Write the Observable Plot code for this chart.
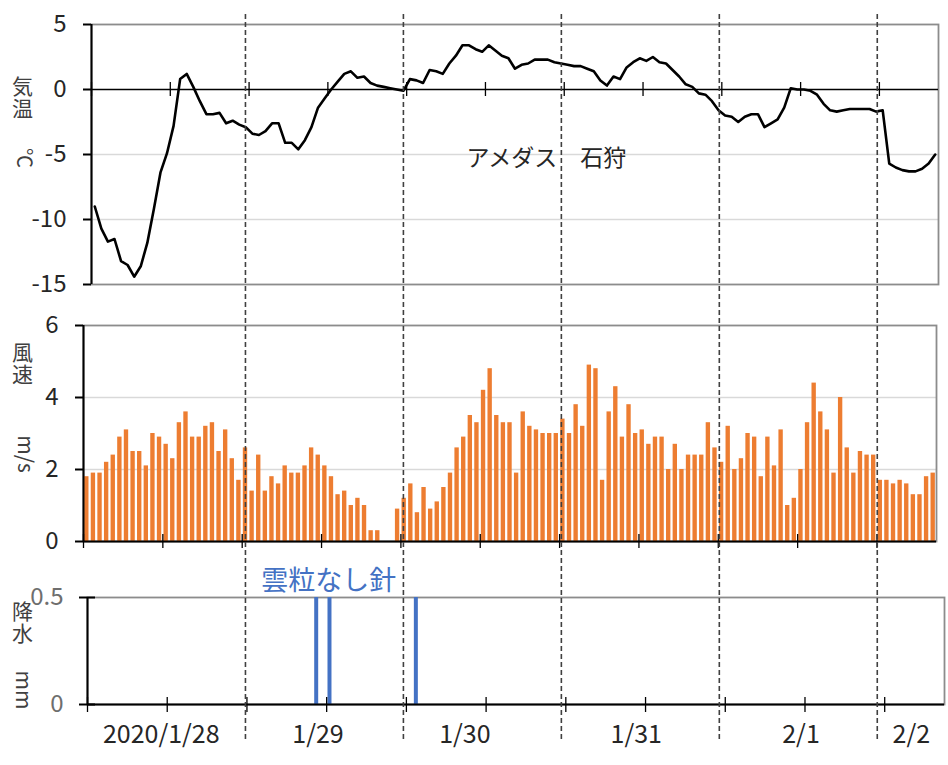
<!DOCTYPE html>
<html><head><meta charset="utf-8">
<script src="https://cdn.jsdelivr.net/npm/d3@7"></script>
<script src="https://cdn.jsdelivr.net/npm/@observablehq/plot@0.6"></script>
<style>
body{margin:0;background:#fff;}
#wrap{position:relative;width:948px;height:765px;overflow:hidden;font-family:"Noto Sans CJK JP","Noto Sans",sans-serif;background:#fff;}
#wrap svg{position:absolute;left:0;top:0;}
</style></head><body><div id="wrap"></div>
<script>
// ---- data ----
const dayLabels = ["2020/1/28", "1/29", "1/30", "1/31", "2/1", "2/2"];
const dayLabelHours = [11.1, 34.7, 56.8, 82.6, 107.4, 124.0];
const halfDayTicks = [0, 12, 24, 36, 48, 60, 72, 84, 96, 108, 120];
const dayBoundaries = [24, 48, 72, 96, 120];
const tempTicks = [5, 0, -5, -10, -15];
const tempGrid = [-5, -10];
const windTicks = [6, 4, 2, 0];
const windGrid = [4, 2];
const precipTicks = [0.5, 0];

// hourly temperature (°C), 2020/1/28 00h .. 2/2 08h
const temperature = [
  -9.0, -10.7, -11.7, -11.5, -13.2, -13.5, -14.4, -13.6, -11.8, -9.2, -6.4, -4.9,
  -2.8, 0.8, 1.2, 0.2, -0.9, -1.9, -1.9, -1.8, -2.6, -2.4, -2.7, -2.9,
  -3.4, -3.5, -3.2, -2.6, -2.6, -4.1, -4.1, -4.6, -3.9, -2.9, -1.4, -0.7,
  0.0, 0.6, 1.2, 1.4, 0.9, 1.0, 0.5, 0.3, 0.2, 0.1, 0.0, -0.1,
  0.8, 0.7, 0.5, 1.5, 1.4, 1.2, 2.0, 2.6, 3.4, 3.4, 3.1, 2.9,
  3.4, 3.0, 2.6, 2.4, 1.6, 1.9, 2.0, 2.3, 2.3, 2.3, 2.1, 2.0,
  1.9, 1.8, 1.8, 1.6, 1.4, 0.7, 0.3, 1.0, 0.8, 1.7, 2.1, 2.4,
  2.2, 2.5, 2.1, 2.0, 1.5, 1.0, 0.4, 0.2, -0.3, -0.4, -0.9, -1.6,
  -2.0, -2.1, -2.5, -2.1, -1.9, -1.9, -2.9, -2.6, -2.3, -1.4, 0.1, 0.0,
  0.0, -0.1, -0.4, -1.1, -1.6, -1.7, -1.6, -1.5, -1.5, -1.5, -1.5, -1.7,
  -1.6, -5.7, -6.0, -6.2, -6.3, -6.3, -6.1, -5.7, -5.0
];

// hourly wind speed (m/s)
const windSpeed = [
  1.8, 1.9, 1.9, 2.2, 2.4, 2.9, 3.1, 2.5, 2.5, 2.1, 3.0, 2.9, 2.7, 2.3, 3.3, 3.6, 2.9, 2.9, 3.2, 3.3, 2.5, 3.1, 2.3, 1.7,
  2.6, 1.4, 2.4, 1.4, 1.8, 1.6, 2.1, 1.9, 1.9, 2.1, 2.6, 2.4, 2.1, 1.8, 1.3, 1.4, 1.0, 1.2, 1.0, 0.3, 0.3, 0, 0, 0.9,
  1.2, 1.6, 0.8, 1.5, 0.9, 1.1, 1.5, 1.9, 2.6, 2.9, 3.5, 3.3, 4.2, 4.8, 3.5, 3.3, 3.3, 1.9, 3.6, 3.2, 3.1, 3.0, 3.0, 3.0,
  3.4, 3.0, 3.8, 3.2, 4.9, 4.8, 1.7, 3.6, 4.3, 2.9, 3.8, 3.0, 3.1, 2.7, 2.9, 2.9, 2.0, 2.7, 2.0, 2.4, 2.4, 2.4, 3.3, 2.6,
  2.2, 3.2, 2.0, 2.3, 3.0, 2.9, 1.8, 2.9, 2.1, 3.1, 1.0, 1.2, 2.0, 3.3, 4.4, 3.6, 3.1, 1.9, 4.0, 2.6, 1.9, 2.5, 2.4, 2.4,
  1.7, 1.7, 1.6, 1.7, 1.6, 1.3, 1.3, 1.8, 1.9
];

// precipitation (mm): hour index and amount
const precipHours = [34, 36, 49];
const precipValues = [0.5, 0.5, 0.5];

const stationLabel = "アメダス　石狩";
const snowLabel = "雲粒なし針";

// ---- layout ----
const W = 948, H = 765, N = temperature.length;
const wrap = document.getElementById("wrap");
const font = '"Noto Sans CJK JP", "Noto Sans", sans-serif';
const fmt = d => String(d);

function panel(o) {
  return Plot.plot({
    width: W, height: H,
    style: {fontFamily: font, background: "transparent", overflow: "visible"},
    ...o
  });
}

const tempPlot = panel({
  marginLeft: 91, marginRight: 10, marginTop: 24, marginBottom: H - 284,
  x: {domain: [0, N], axis: null},
  y: {domain: [-15, 5], axis: null},
  marks: [
    Plot.ruleY(tempGrid, {stroke: "#d9d9d9", strokeWidth: 1.6}),
    Plot.frame({stroke: "#8c8c8c", strokeWidth: 1.8}),
    Plot.ruleY([0], {stroke: "black", strokeWidth: 1.3}),
    Plot.ruleX(halfDayTicks, {y1: 0, y2: 0, insetTop: -7, insetBottom: -7, stroke: "black", strokeWidth: 1.3}),
    Plot.ruleX([0], {stroke: "black", strokeWidth: 2}),
    Plot.ruleY(tempTicks, {x1: 0, x2: 0, insetLeft: -8, stroke: "black", strokeWidth: 2}),
    Plot.text(tempTicks, {y: d => d, text: fmt, frameAnchor: "left", textAnchor: "end", dx: -25, fontSize: 24, fill: "#262626"}),
    Plot.line(temperature, {x: (d, i) => i + 0.5, y: d => d, stroke: "black", strokeWidth: 2.6, strokeLinejoin: "round"}),
    Plot.text([stationLabel], {x: 57.1, y: -5.35, text: d => d, textAnchor: "start", fontSize: 23, fill: "#262626"})
  ]
});

const windPlot = panel({
  marginLeft: 83, marginRight: W - 936, marginTop: 325, marginBottom: H - 541,
  x: {domain: [0, N], axis: null},
  y: {domain: [0, 6], axis: null},
  marks: [
    Plot.ruleY(windGrid, {stroke: "#d9d9d9", strokeWidth: 1.6}),
    Plot.frame({stroke: "#8c8c8c", strokeWidth: 1.8}),
    Plot.rect(windSpeed, {x1: (d, i) => i + 0.17, x2: (d, i) => i + 0.83, y1: 0, y2: d => d, fill: "#ED7D31"}),
    Plot.ruleY([0], {stroke: "black", strokeWidth: 2}),
    Plot.ruleX(halfDayTicks, {y1: 0, y2: 0, insetTop: -7, insetBottom: -7, stroke: "black", strokeWidth: 1.3}),
    Plot.ruleX([0], {stroke: "black", strokeWidth: 2}),
    Plot.ruleY(windTicks, {x1: 0, x2: 0, insetLeft: -8, stroke: "black", strokeWidth: 2}),
    Plot.text(windTicks, {y: d => d, text: fmt, frameAnchor: "left", textAnchor: "end", dx: -25, fontSize: 24, fill: "#262626"})
  ]
});

const precipPlot = panel({
  marginLeft: 87, marginRight: W - 944, marginTop: 597, marginBottom: H - 704,
  x: {domain: [0, N], axis: null},
  y: {domain: [0, 0.5], axis: null},
  marks: [
    Plot.frame({stroke: "#8c8c8c", strokeWidth: 1.8}),
    Plot.rect(precipHours, {x1: d => d + 0.2, x2: d => d + 0.8, y1: 0, y2: (d, i) => precipValues[i], fill: "#4472C4"}),
    Plot.ruleY([0], {stroke: "black", strokeWidth: 2}),
    Plot.ruleX(halfDayTicks, {y1: 0, y2: 0, insetTop: -7, insetBottom: -8, stroke: "black", strokeWidth: 1.3}),
    Plot.ruleX([0], {stroke: "black", strokeWidth: 2}),
    Plot.ruleY(precipTicks, {x1: 0, x2: 0, insetLeft: -8, insetRight: -8, stroke: "black", strokeWidth: 2}),
    Plot.text(precipTicks, {y: d => d, text: fmt, frameAnchor: "left", textAnchor: "end", dx: -24, fontSize: 24, fill: "#6e6e6e"}),
    Plot.text(dayLabels, {x: (d, i) => dayLabelHours[i], text: d => d, frameAnchor: "bottom", dy: 38, fontSize: 25, fill: "#262626"}),
    Plot.text([snowLabel], {x: 36.3, text: d => d, frameAnchor: "top", dy: -27, fontSize: 27, fill: "#4472C4"})
  ]
});

const dashPlot = panel({
  marginLeft: 87, marginRight: W - 936, marginTop: 14, marginBottom: H - 742,
  x: {domain: [0, N], axis: null},
  marks: [
    Plot.ruleX(dayBoundaries, {stroke: "#404040", strokeWidth: 1.6, strokeDasharray: "5,3"})
  ]
});

for (const p of [tempPlot, windPlot, precipPlot, dashPlot]) wrap.appendChild(p);

function label(text, cx, cy, size = 20, rotate = 0, vertical = false) {
  const d = document.createElement("div");
  d.textContent = text;
  d.style.cssText = `position:absolute;left:${cx}px;top:${cy}px;transform:translate(-50%,-50%) rotate(${rotate}deg);font-size:${size}px;line-height:1;white-space:nowrap;color:#404040;` +
    (vertical ? "writing-mode:vertical-rl;text-orientation:upright;letter-spacing:1px;" : "");
  wrap.appendChild(d);
}
label("気温", 22, 98, 21, 0, true); label("℃", 25, 158, 20, 90);
label("風速", 22, 364, 21, 0, true); label("m/s", 26, 454, 21, 90);
label("降水", 22, 623, 21, 0, true); label("mm", 24, 690, 21, 90);
</script></body></html>
